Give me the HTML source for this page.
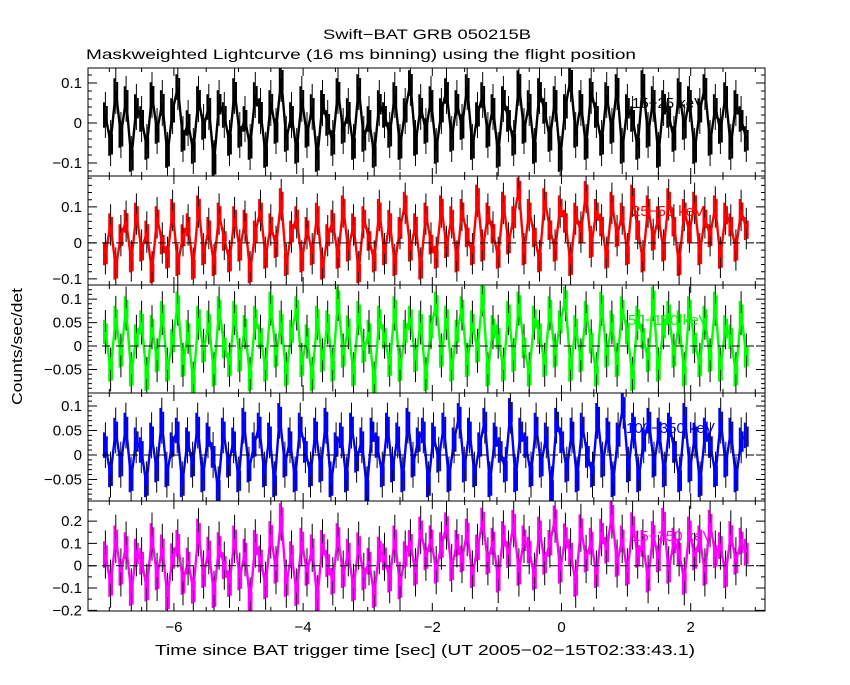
<!DOCTYPE html>
<html><head><meta charset="utf-8"><style>
body{margin:0;background:#fff;}
svg text{font-family:"Liberation Sans",sans-serif;}
</style></head><body>
<svg id="c" width="850" height="680" viewBox="0 0 850 680" xmlns="http://www.w3.org/2000/svg">
<rect width="850" height="680" fill="#fff"/>
<text x="323" y="39" font-size="14" textLength="208" lengthAdjust="spacingAndGlyphs">Swift−BAT GRB 050215B</text>
<text x="86" y="59" font-size="14" textLength="550" lengthAdjust="spacingAndGlyphs">Maskweighted Lightcurve (16 ms binning) using the flight position</text>
<text x="155" y="655" font-size="15" textLength="540" lengthAdjust="spacingAndGlyphs">Time since BAT trigger time [sec] (UT 2005−02−15T02:33:43.1)</text>
<text transform="translate(22,405) rotate(-90)" font-size="15" textLength="117" lengthAdjust="spacingAndGlyphs">Counts/sec/det</text>
<g id="panels"></g>
</svg>
<script>
const tStart=-7.1, tEnd=2.9;
const xTicksMajor=[-6,-4,-2,0,2];
const bands=["15−25 keV","25−50 keV","50−100 keV","100−350 keV","15−350 keV"];
const colors=["#000","#f00","#0f0","#00f","#f0f"];
const s1=[0.02,-0.05,0.08,-0.03,0.06,-0.09,0.04,0.01,-0.06,0.07,-0.02,0.05,-0.08,0.03,0.09,-0.04,0.0,-0.07,0.06,-0.01,0.04,-0.1,0.05,0.02,-0.05,0.08,-0.03,0.01,-0.06,0.07,0.03,-0.08,0.05,-0.02,0.11,-0.04,0.02,-0.07,0.06,-0.03,0.04,-0.09,0.05,0.0,-0.05,0.08,-0.02,0.03,-0.06,0.09,-0.04,0.01,-0.08,0.05,0.02,-0.03,0.07,-0.06,0.03,0.1,-0.05,0.04,-0.02,0.06,-0.07,0.03,0.08,-0.04,0.05,-0.01,0.09,-0.06,0.02,0.07,-0.03,0.04,-0.08,0.06,0.01,-0.05,0.1,-0.02,0.05,-0.07,0.08,0.03,-0.04,0.06,-0.09,0.04,0.11,-0.03,0.05,-0.06,0.08,0.02,-0.05,0.07,-0.02,0.09,-0.07,0.04,0.01,-0.06,0.1,-0.03,0.06,-0.08,0.05,0.02,-0.04,0.08,-0.01,0.06,-0.07,0.03,0.09,-0.05,0.04,-0.02,0.07,-0.06,0.05,0.01,-0.04];
const s2=[-0.03,0.05,-0.07,0.02,0.06,-0.05,0.08,-0.02,0.03,-0.08,0.07,0.0,-0.04,0.09,-0.06,0.02,0.05,-0.07,0.1,-0.03,0.04,-0.06,0.08,0.01,-0.05,0.07,-0.02,0.06,-0.08,0.03,0.09,-0.04,0.05,-0.01,0.12,-0.06,0.03,0.07,-0.05,0.04,-0.03,0.08,-0.07,0.02,0.06,-0.04,0.1,-0.02,0.05,-0.08,0.07,0.01,-0.05,0.09,-0.03,0.06,-0.06,0.04,0.11,-0.02,0.05,-0.07,0.08,0.0,-0.04,0.1,-0.01,0.07,-0.05,0.09,0.02,-0.03,0.13,-0.02,0.08,0.03,-0.04,0.11,0.0,0.07,0.15,-0.03,0.09,0.02,-0.05,0.12,0.04,-0.02,0.1,0.06,-0.06,0.08,0.03,0.14,-0.01,0.09,0.05,-0.04,0.11,0.02,0.08,-0.03,0.13,0.04,-0.05,0.1,0.01,0.07,-0.02,0.12,0.05,-0.06,0.09,0.03,0.11,-0.03,0.07,0.02,0.1,-0.04,0.08,0.05,-0.02,0.09,0.04];
const s3=[0.03,-0.05,0.06,-0.02,0.08,-0.06,0.02,0.05,-0.07,0.04,-0.03,0.07,-0.05,0.01,0.09,-0.04,0.03,-0.08,0.06,-0.01,0.05,-0.06,0.08,0.0,-0.04,0.07,-0.03,0.04,-0.07,0.06,0.02,-0.05,0.09,-0.02,0.05,-0.06,0.03,0.08,-0.04,0.02,-0.07,0.06,-0.03,0.05,-0.05,0.1,-0.02,0.04,-0.06,0.07,-0.01,0.03,-0.08,0.06,0.02,-0.04,0.08,-0.05,0.03,0.06,-0.03,0.05,-0.07,0.04,0.09,-0.02,0.06,-0.05,0.03,0.08,-0.04,0.05,-0.01,0.11,-0.06,0.04,0.02,-0.05,0.07,-0.03,0.09,0.0,-0.06,0.06,0.03,-0.04,0.08,-0.02,0.05,0.1,-0.05,0.04,-0.03,0.07,0.01,-0.06,0.09,-0.02,0.05,-0.04,0.08,0.03,-0.07,0.06,0.02,-0.03,0.1,-0.05,0.04,0.07,-0.02,0.05,-0.06,0.08,0.01,-0.04,0.06,-0.03,0.09,-0.05,0.04,0.02,-0.06,0.07,-0.02];
const s4=[0.02,-0.04,0.05,-0.02,0.06,-0.05,0.03,0.01,-0.06,0.04,-0.03,0.07,-0.04,0.02,0.05,-0.06,0.03,-0.02,0.06,-0.05,0.04,0.0,-0.07,0.05,-0.02,0.03,-0.05,0.07,-0.03,0.02,0.06,-0.04,0.04,-0.06,0.08,-0.02,0.03,-0.05,0.06,0.01,-0.04,0.05,-0.03,0.07,-0.06,0.02,0.04,-0.05,0.06,-0.01,0.03,-0.07,0.05,0.02,-0.04,0.06,-0.03,0.04,-0.05,0.07,-0.02,0.03,0.05,-0.06,0.04,-0.01,0.06,-0.05,0.03,0.08,-0.03,0.05,-0.04,0.02,0.07,-0.06,0.04,0.01,-0.03,0.09,-0.05,0.05,0.02,-0.04,0.06,-0.02,0.04,-0.07,0.07,0.03,-0.03,0.05,-0.05,0.06,0.0,-0.04,0.08,-0.02,0.05,-0.06,0.04,0.1,-0.03,0.06,-0.05,0.03,0.07,-0.02,0.05,-0.04,0.06,0.01,-0.05,0.08,-0.03,0.04,-0.06,0.05,0.02,-0.04,0.07,-0.02,0.05,-0.05,0.03,0.04];
const s5=[0.05,-0.08,0.12,-0.03,0.09,-0.12,0.06,0.02,-0.1,0.13,-0.05,0.08,-0.14,0.04,0.1,-0.07,0.02,-0.11,0.15,-0.04,0.07,-0.13,0.09,0.0,-0.08,0.12,-0.05,0.06,-0.16,0.1,0.03,-0.09,0.14,-0.02,0.22,-0.08,0.05,-0.12,0.11,-0.03,0.08,-0.15,0.1,0.01,-0.07,0.13,-0.04,0.06,-0.1,0.09,-0.05,0.02,-0.13,0.07,0.04,-0.06,0.12,-0.09,0.05,0.1,-0.03,0.16,0.04,0.12,-0.02,0.09,0.18,-0.01,0.1,0.03,0.15,-0.04,0.08,0.2,0.02,0.11,-0.06,0.14,0.05,0.19,-0.03,0.12,0.07,-0.05,0.16,0.02,0.1,0.21,-0.02,0.13,0.06,-0.08,0.17,0.03,0.11,-0.04,0.15,0.07,0.23,0.01,0.12,-0.03,0.18,0.05,0.1,-0.06,0.14,0.03,0.2,-0.02,0.11,0.06,-0.07,0.16,0.04,0.12,-0.03,0.19,0.05,0.09,-0.04,0.14,0.02,0.11,0.06];
const series=[s1,s2,s3,s4,s5];
const yTicks=[[-0.1,0,0.1],[-0.1,0,0.1],[-0.05,0,0.05,0.1],[-0.05,0,0.05,0.1],[-0.2,-0.1,0,0.1,0.2]];
const yTickLabels=[["−0.1","0","0.1"],["−0.1","0","0.1"],["−0.05","0","0.05","0.1"],["−0.05","0","0.05","0.1"],["−0.2","−0.1","0","0.1","0.2"]];
const yMinorStep=[0.02,0.02,0.01,0.01,0.05];
const yDomains=[[-0.1325,0.1375],[-0.117,0.186],[-0.1,0.13],[-0.094,0.1265],[-0.203,0.29]];
const spread=[0.032,0.032,0.026,0.026,0.06];
const tops=[68,176,285,393,501,611];
const L=88,R=765;
const xMin=-7.33,xMax=3.15;
const NS="http://www.w3.org/2000/svg";
const X=t=>L+(t-xMin)/(xMax-xMin)*(R-L);
const g=document.getElementById('panels');
function mk(tag,at,parent){const e=document.createElementNS(NS,tag);for(const k in at)e.setAttribute(k,at[k]);(parent||g).appendChild(e);return e;}
series.forEach((data,p)=>{
  const top=tops[p],bot=tops[p+1];
  const [lo,hi]=yDomains[p];
  const Y=v=>Math.max(top,Math.min(bot,bot-(v-lo)/(hi-lo)*(bot-top)));
  const grp=mk('g',{});
  
  
  const n=data.length, dt=(tEnd-tStart)/n;
  const a=spread[p];
  let eb='';
  data.forEach((v,i)=>{const x=X(tStart+(i+0.5)*dt);eb+=`M${x.toFixed(1)} ${Y(v+a*1.8).toFixed(1)}V${Y(v-a*1.8).toFixed(1)}`;});
  const e=mk('path',{d:eb,stroke:'#000','stroke-width':1,fill:'none'},grp);
  
  
  let ln='', vb='';
  data.forEach((v,i)=>{const x=X(tStart+(i+0.5)*dt);ln+=(i?'L':'M')+x.toFixed(1)+' '+Y(v).toFixed(1);
    vb+=`M${(x-1.4).toFixed(1)} ${Y(v+a).toFixed(1)}V${Y(v-a).toFixed(1)}M${(x+1.4).toFixed(1)} ${Y(v+a*0.7).toFixed(1)}V${Y(v-a*0.9).toFixed(1)}`;});
  const pl=mk('path',{d:ln,fill:'none',stroke:colors[p],'stroke-width':2.4,'stroke-linejoin':'miter'},grp);
  
  
  const vv=mk('path',{d:vb,fill:'none',stroke:colors[p],'stroke-width':2},grp);
  
  
  if(p>0){const z=mk('line',{x1:L,x2:R,y1:Y(0),y2:Y(0),stroke:'#000','stroke-dasharray':'8,6'},grp);
    
    }
  const fr=mk('rect',{x:L,y:top,width:R-L,height:bot-top,fill:'none',stroke:'#000'},grp);
  
  
  let tk='';
  for(let t=-7;t<=3.01;t+=0.5){const x=X(t);const maj=xTicksMajor.some(m=>Math.abs(m-t)<1e-6);const l=maj?8:4;tk+=`M${x} ${top}v${l}M${x} ${bot}v${-l}`;}
  for(let v=Math.ceil(lo/yMinorStep[p])*yMinorStep[p];v<=hi;v+=yMinorStep[p]){const y=Y(v);tk+=`M${L} ${y}h4M${R} ${y}h-4`;}
  yTicks[p].forEach((v,i)=>{const y=Y(v);tk+=`M${L} ${y}h9M${R} ${y}h-9`;
    const tx=mk('text',{x:L-6,y:y+5,'font-size':15,'text-anchor':'end'},grp);tx.textContent=yTickLabels[p][i];
    
    });
  const tp=mk('path',{d:tk,stroke:'#000','stroke-width':1,fill:'none'},grp);
  
  
  const lb=mk('text',{x:p==3?626:(p==2?628:632),y:top+40,'font-size':15,fill:colors[p]},grp);lb.textContent=bands[p];
  
  
});
xTicksMajor.forEach(t=>{const tx=mk('text',{x:X(t),y:632,'font-size':15,'text-anchor':'middle'});tx.textContent=t<0?'−'+(-t):String(t);
  
  });
</script>
</body></html>
